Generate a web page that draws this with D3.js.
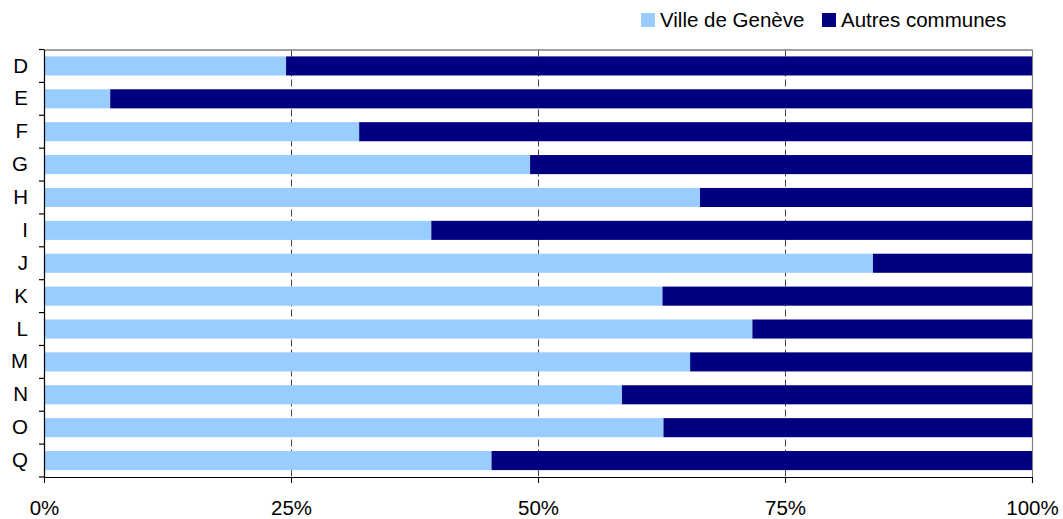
<!DOCTYPE html>
<html>
<head>
<meta charset="utf-8">
<script src="https://cdn.jsdelivr.net/npm/d3@7"></script>
<style>
  body { margin: 0; background: #fff; }
  svg { font-family: "Liberation Sans", Arial, sans-serif; }
</style>
</head>
<body>
<script>
// categories (top to bottom)
var categories = ["D", "E", "F", "G", "H", "I", "J", "K", "L", "M", "N", "O", "Q"];
// share of Ville de Genève, in %
var ville = [24.5, 6.7, 31.9, 49.2, 66.4, 39.2, 83.9, 62.6, 71.7, 65.4, 58.5, 62.7, 45.3];
// share of Autres communes = remainder
var autres = ville.map(function(v) { return 100 - v; });
var seriesNames = ["Ville de Genève", "Autres communes"];
var xTicks = [0, 25, 50, 75, 100];

var colors = ["#99ccff", "#000080"];
var fontSize = 20.5;
var margin = {top: 49.5, right: 31, bottom: 42, left: 44}
  , width = 1063 - margin.left - margin.right
  , height = 519 - margin.top - margin.bottom;

var rows = categories.map(function(c, i) {
  return {cat: c, ville: ville[i], autres: autres[i]};
});

var x = d3.scaleLinear().domain([0, 100]).range([0, width]);
var y = d3.scaleBand().domain(categories).range([0, height]).paddingInner(0.42).paddingOuter(0.21);
var yb = d3.scaleBand().domain(categories).range([0, height]);

var svg = d3.select("body").append("svg")
    .attr("width", 1063)
    .attr("height", 519);
var g = svg.append("g")
    .attr("transform", "translate(" + margin.left + "," + margin.top + ")");

// dashed gridlines (behind bars)
g.selectAll(".grid")
  .data(xTicks.filter(function(t) { return t > 0 && t < 100; }))
  .enter().append("line")
    .attr("x1", function(d) { return Math.round(x(d)) + 0.5; })
    .attr("x2", function(d) { return Math.round(x(d)) + 0.5; })
    .attr("y1", 0).attr("y2", height)
    .attr("stroke", "#444")
    .attr("stroke-width", 1)
    .attr("stroke-dasharray", "7,3");

// top and right border
g.append("line").attr("x1", 0).attr("x2", width).attr("y1", 0.5).attr("y2", 0.5)
  .attr("stroke", "#808080").attr("stroke-width", 1.5);
g.append("line").attr("x1", width + 0.5).attr("x2", width + 0.5).attr("y1", 0).attr("y2", height + 6)
  .attr("stroke", "#808080").attr("stroke-width", 1.2);

var stack = d3.stack().keys(["ville", "autres"])(rows);

g.selectAll(".series")
  .data(stack)
  .enter().append("g")
    .attr("fill", function(d, i) { return colors[i]; })
  .selectAll("rect")
  .data(function(d) { return d; })
  .enter().append("rect")
    .attr("x", function(d) { return x(d[0]); })
    .attr("width", function(d) { return x(d[1]) - x(d[0]); })
    .attr("y", function(d) { return y(d.data.cat); })
    .attr("height", y.bandwidth());

// left axis
var yAxis = g.append("g")
    .call(d3.axisLeft(yb).tickSize(0).tickPadding(16));
yAxis.select(".domain").attr("stroke", "#000").attr("stroke-width", 1.2);
yAxis.selectAll("text").attr("font-size", fontSize).attr("fill", "#000")
    .attr("font-family", "Liberation Sans, Arial, sans-serif");
// boundary ticks between categories
var bounds = categories.map(function(c) { return yb(c); }).concat([height]);
g.selectAll(".ytick")
  .data(bounds)
  .enter().append("line")
    .attr("x1", -5).attr("x2", 0)
    .attr("y1", function(d) { return d; }).attr("y2", function(d) { return d; })
    .attr("stroke", "#000").attr("stroke-width", 1.2);

// bottom axis
var xAxis = g.append("g")
    .attr("transform", "translate(0," + height + ")")
    .call(d3.axisBottom(x).tickValues(xTicks).tickSize(6).tickSizeOuter(0).tickPadding(17)
      .tickFormat(function(d) { return d + "%"; }));
xAxis.select(".domain").attr("stroke", "#000").attr("stroke-width", 1.2);
xAxis.selectAll("line").attr("stroke", "#000");
xAxis.selectAll("text").attr("font-size", fontSize).attr("fill", "#000")
    .attr("font-family", "Liberation Sans, Arial, sans-serif");

// legend
var legendX = [641, 822];
var legend = svg.selectAll(".legend")
  .data(seriesNames)
  .enter().append("g")
    .attr("transform", function(d, i) { return "translate(" + legendX[i] + ",13)"; });
legend.append("rect")
    .attr("width", 14).attr("height", 14)
    .attr("fill", function(d, i) { return colors[i]; });
legend.append("text")
    .attr("x", 19).attr("y", 14)
    .attr("font-size", fontSize)
    .attr("fill", "#000")
    .text(function(d) { return d; });
</script>
</body>
</html>
